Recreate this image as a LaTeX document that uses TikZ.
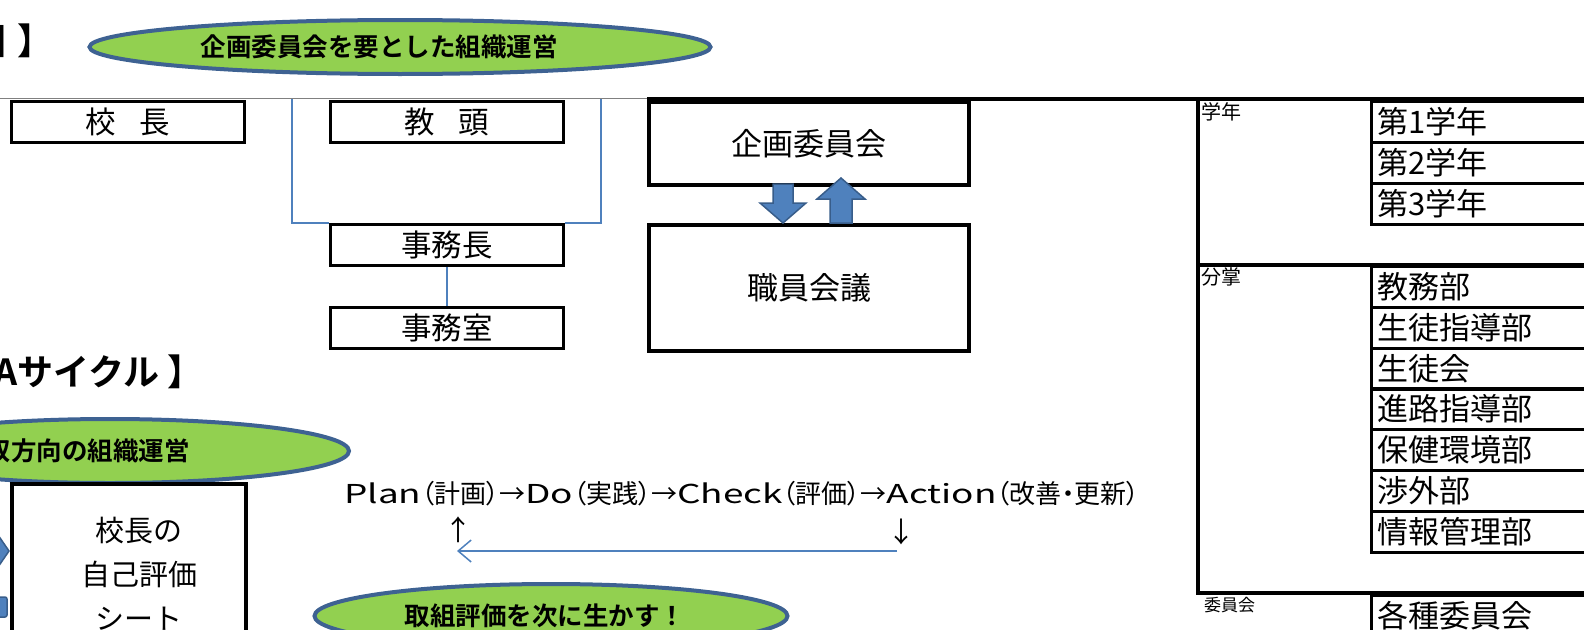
\documentclass[tikz,border=0pt]{standalone}
\usepackage{fontspec}
\setmainfont{Noto Sans CJK JP}[BoldFont={Noto Sans CJK JP Bold}]
\newfontfamily\pdcafont{Noto Sans CJK JP}[RawFeature=+palt]
\usepackage{graphicx}
\usepackage{tikz}
\usetikzlibrary{arrows,arrows.meta,positioning,shapes.geometric}
\usepackage{xcolor}
\definecolor{ovalgreen}{HTML}{92D050}
\definecolor{ovaledge}{HTML}{3E6292}
\definecolor{linkblue}{HTML}{4F81BD}
\definecolor{arrowedge}{HTML}{385D8A}
\newcommand{\wideword}[1]{\scalebox{1.42}[1]{#1}}

\begin{document}
\begin{tikzpicture}[x=1pt,y=-1pt,
    kbox/.style={draw,line width=2.8pt,anchor=north west,minimum width=233,
        minimum height=41,inner sep=0pt,font=\fontsize{30.5}{34}\selectfont},
    bigbox/.style={draw,line width=4pt,anchor=north west,minimum width=320,
        inner sep=0pt,font=\fontsize{31}{34}\selectfont},
    rowbox/.style={draw,line width=3pt,anchor=north west,minimum height=41,
        text width=250pt,align=left,inner xsep=6pt,inner ysep=0pt,
        font=\fontsize{31}{34}\selectfont},
    grouplabel/.style={anchor=north west,inner sep=1pt,font=\fontsize{20}{22}\selectfont},
    oval/.style={ellipse,draw=ovaledge,fill=ovalgreen,line width=4pt,inner sep=0pt,
        font=\bfseries\fontsize{25.5}{28}\selectfont},
    heading/.style={anchor=east,inner sep=0pt,font=\bfseries\fontsize{36}{40}\selectfont},
    link/.style={draw=linkblue,line width=1.5pt},
    blockarrow/.style={fill=linkblue,draw=arrowedge,line width=1.5pt,line join=miter}]
    \useasboundingbox (0,0) rectangle (1584,629);
    % Headings
    \node[heading] (headOrg) at (54,41) {【 組織図\hspace{0.3em}】};
    \node[heading] (headPdca) at (204,372) {【PDCAサイクル 】};
    % Ovals
    \node[oval,minimum width=621,minimum height=54] (ovTop) at (400,47)
        {企画委員会を要とした組織運営\hspace*{42pt}};
    \node[oval,minimum width=478,minimum height=64] (ovMid) at (110,451)
        {双方向の組織運営\hspace*{44pt}};
    \node[oval,minimum width=473,minimum height=64] (ovBot) at (551,616)
        {取組評価を次に生かす！\hspace*{12pt}};
    % Top rule
    \draw[gray,line width=1pt] (0,98) -- (647,98);
    \draw[line width=3.5pt] (647,99) -- (1600,99);
    % Office
    \node[kbox] (kocho) at (10,100) {校\hspace{0.78em}長};
    \node[kbox] (kyoto) at (329,100) {教\hspace{0.78em}頭};
    \node[kbox] (jimucho) at (329,223) {事務長};
    \node[kbox] (jimushitsu) at (329,306) {事務室};
    \coordinate (bkL) at (292,99);
    \coordinate (bkR) at (601,99);
    \draw[link] (bkL) |- (jimucho.north west);
    \draw[link] (bkR) |- (jimucho.north east);
    \draw[link] (jimucho.south) -- (jimushitsu.north);
    % Committee
    \node[bigbox,minimum height=83] (kikaku) at (647,100) {企画委員会};
    \node[bigbox,minimum height=126] (shokuin) at (647,223) {職員会議};
    \filldraw[blockarrow] (773,184) -- (793,184) -- (793,203) -- (806,203)
        -- (783,223) -- (760,203) -- (773,203) -- cycle;
    \filldraw[blockarrow] (830,223) -- (852,223) -- (852,199) -- (865,199)
        -- (841,178) -- (817,199) -- (830,199) -- cycle;
    % Groups
    \draw[line width=3.5pt] (1198,99) -- (1198,593);
    \draw[line width=3.5pt] (1198,265) -- (1600,265);
    \draw[line width=3.5pt] (1196,593) -- (1600,593);
    \node[grouplabel] (lbNen) at (1200,101) {学年};
    \node[grouplabel] (lbBun) at (1200,266) {分掌};
    \node[grouplabel,font=\fontsize{17}{20}\selectfont] (lbIin) at (1203,596) {委員会};
    % Grades
    \node[rowbox] (nen1) at (1370,100) {第1学年};
    \node[rowbox] (nen2) at (1370,141) {第2学年};
    \node[rowbox] (nen3) at (1370,182) {第3学年};
    % Divisions
    \node[rowbox] (bun1) at (1370,265) {教務部};
    \node[rowbox] (bun2) at (1370,306) {生徒指導部};
    \node[rowbox] (bun3) at (1370,347) {生徒会};
    \node[rowbox] (bun4) at (1370,387) {進路指導部};
    \node[rowbox] (bun5) at (1370,428) {保健環境部};
    \node[rowbox] (bun6) at (1370,469) {渉外部};
    \node[rowbox] (bun7) at (1370,510) {情報管理部};
    % Committees
    \node[rowbox] (iin) at (1370,594) {各種委員会};
    % Self evaluation
    \node[bigbox,minimum width=234,minimum height=200] (selfBox) at (10,482) {};
    \node[align=center,inner sep=0pt,font=\fontsize{29}{44}\selectfont] (selfTxt)
        at (139,574) {校長の\\自己評価\\シート};
    \filldraw[blockarrow] (-15,516) -- (9,551) -- (-15,586) -- cycle;
    \filldraw[blockarrow,rounded corners=2pt] (-10,597) rectangle (7,617);
    % PDCA
    \node[font=\pdcafont\fontsize{26}{28}\selectfont,inner sep=0pt] (pdca) at (742,494)
        {\wideword{Plan}（計画）→\wideword{Do}（実践）→\wideword{Check}（評価）→\wideword{Action}（改善・更新）};
    \node[font=\fontsize{28}{30}\selectfont,inner sep=0pt] (upMark) at (458,530) {↑};
    \node[font=\fontsize{28}{30}\selectfont,inner sep=0pt] (dnMark) at (901,532) {↓};
    \coordinate (loopR) at (897,551);
    \coordinate (loopL) at (457,551);
    \draw[link,-{Straight Barb[length=13pt,width=22pt,line width=1.5pt]}] (loopR) -- (loopL);
\end{tikzpicture}
\end{document}
